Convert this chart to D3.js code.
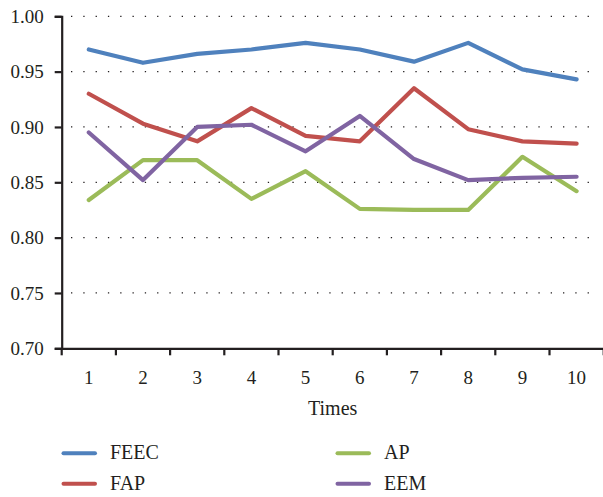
<!DOCTYPE html>
<html><head><meta charset="utf-8">
<script src="https://cdn.jsdelivr.net/npm/d3@7"></script>
<style>body{margin:0;background:#fff}svg{display:block}</style>
</head><body><svg id="c" width="603" height="497"></svg>
<script>
const times = [1,2,3,4,5,6,7,8,9,10];
const yTicks = [0.70,0.75,0.80,0.85,0.90,0.95,1.00];
const seriesNames = ["FEEC","FAP","AP","EEM"];
const seriesColors = ["#4F81BD","#C0504D","#9BBB59","#8064A2"];
const feec = [0.970,0.958,0.966,0.970,0.976,0.970,0.959,0.976,0.952,0.943];
const fap  = [0.930,0.903,0.887,0.917,0.892,0.887,0.935,0.898,0.887,0.885];
const ap   = [0.834,0.870,0.870,0.835,0.860,0.826,0.825,0.825,0.873,0.842];
const eem  = [0.895,0.852,0.900,0.902,0.878,0.910,0.871,0.852,0.854,0.855];
const values = [feec,fap,ap,eem];

const FONT = "'Liberation Serif','Times New Roman',Times,serif";
const INK = "#231f20";
const svg = d3.select("#c").attr("font-family",FONT);
const L=61.7, R=603.7, T=16.3, B=348.3;
const x = d3.scaleBand().domain(times).range([L,R]);
const y = d3.scaleLinear().domain([0.70,1.00]).range([B,T]);

// grid
svg.append("g").selectAll("line").data(yTicks.slice(1)).join("line")
  .attr("x1",71).attr("x2",594).attr("y1",d=>y(d)).attr("y2",d=>y(d))
  .attr("stroke",INK).attr("stroke-width",1.3).attr("stroke-dasharray","1.3,11");

// y axis
const ya = svg.append("g").attr("transform",`translate(${L},0)`)
  .call(d3.axisLeft(y).tickValues(yTicks).tickFormat(d3.format(".2f")).tickSize(7).tickPadding(11));
ya.attr("font-family",FONT).attr("font-size",19);
ya.select(".domain").attr("stroke",INK).attr("stroke-width",2.2);
ya.selectAll(".tick line").attr("stroke",INK).attr("stroke-width",2.2);
ya.selectAll("text").attr("fill",INK);

// x axis
const xa = svg.append("g").attr("transform",`translate(0,${B})`)
  .call(d3.axisBottom(x).tickSize(0).tickPadding(22));
xa.attr("font-family",FONT).attr("font-size",19);
xa.select(".domain").attr("stroke",INK).attr("stroke-width",2.2);
xa.selectAll(".tick text").attr("fill",INK);
xa.selectAll(".tick line").remove();
svg.append("g").selectAll("line").data(times.concat([11])).join("line")
  .attr("x1",(d,i)=>L+i*x.bandwidth()).attr("x2",(d,i)=>L+i*x.bandwidth())
  .attr("y1",B).attr("y2",B+7).attr("stroke",INK).attr("stroke-width",2.2);

svg.append("text").attr("x",(L+R)/2).attr("y",415).attr("text-anchor","middle")
  .attr("font-size",20).attr("fill",INK).text("Times");

// lines
const line = d3.line().x((d,i)=>x(times[i])+x.bandwidth()/2).y(d=>y(d));
values.forEach((v,k)=>{
  svg.append("path").datum(v).attr("d",line).attr("fill","none")
    .attr("stroke",seriesColors[k]).attr("stroke-width",4.2).attr("stroke-linejoin","round").attr("stroke-linecap","round");
});

// legend
const legPos = [[62,453.3],[62,483.7],[336,453.3],[336,483.7]];
seriesNames.forEach((n,k)=>{
  const [lx,ly]=legPos[k];
  svg.append("line").attr("x1",lx+1.5).attr("x2",lx+33).attr("y1",ly).attr("y2",ly)
    .attr("stroke",seriesColors[k]).attr("stroke-width",4).attr("stroke-linecap","round");
  svg.append("text").attr("x",lx+48).attr("y",ly+6).attr("font-size",20).attr("fill",INK).text(n);
});
</script></body></html>
